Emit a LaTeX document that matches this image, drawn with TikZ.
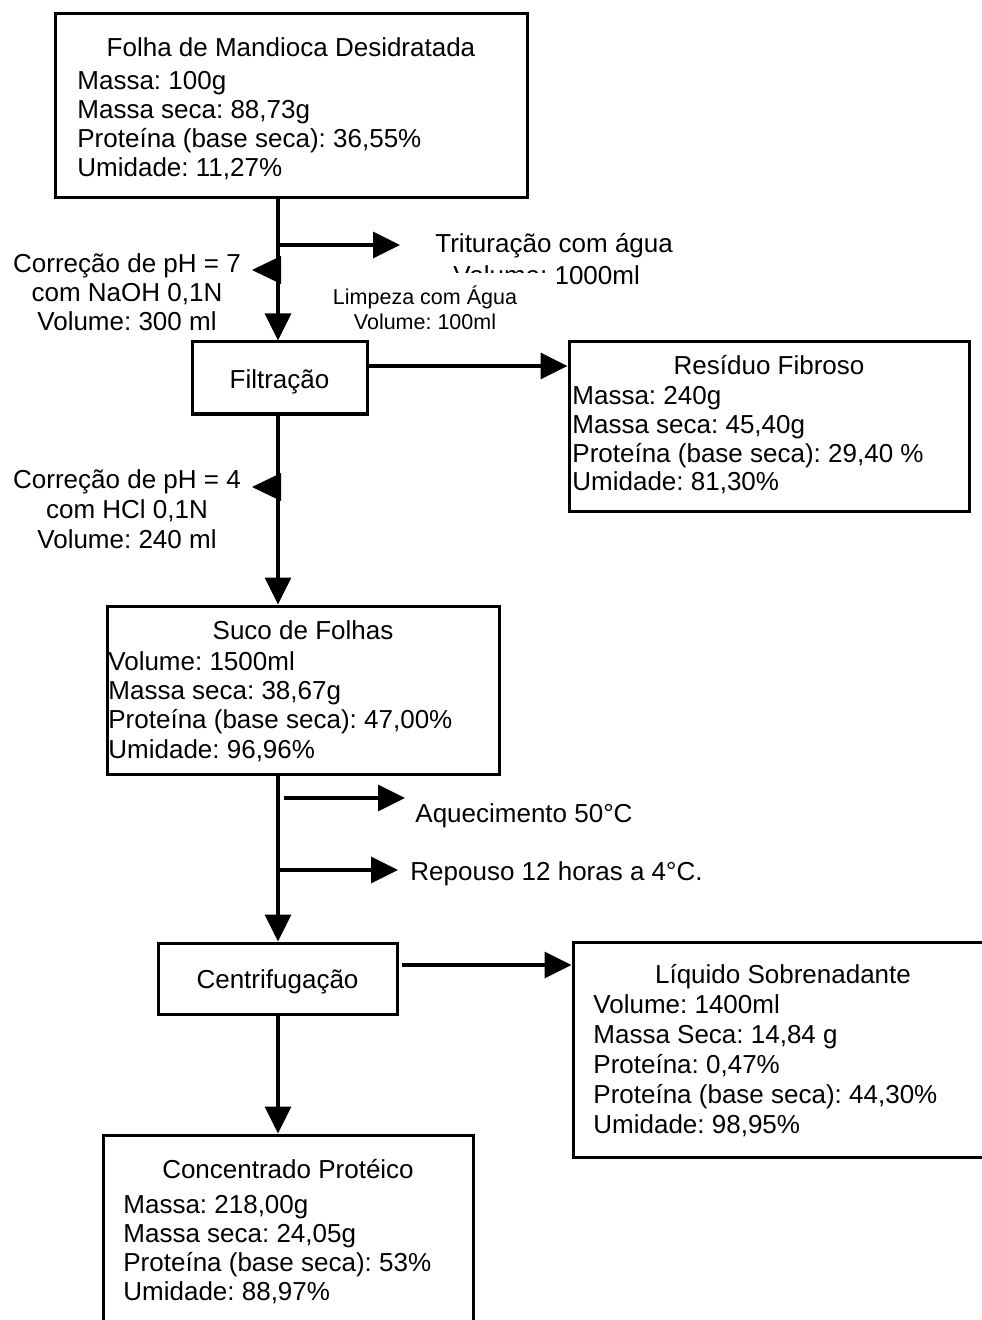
\documentclass[tikz,border=0pt]{standalone}
\usepackage{fontspec}
\setmainfont{Liberation Sans}
\usetikzlibrary{arrows.meta,fit}
\frenchspacing
\begin{document}
\begin{tikzpicture}[x=0.5pt,y=-0.5pt,
  box/.style={draw=black, line width=1.5pt, inner sep=0pt, rectangle},
  txt/.style={inner sep=0pt, font=\fontsize{13pt}{14.75pt}\selectfont},
  lt/.style={txt, anchor=base west},
  ct/.style={txt, anchor=base},
  small/.style={inner sep=0pt, anchor=base, font=\fontsize{10.75pt}{12.5pt}\selectfont},
  flow/.style={line width=1.75pt, -{Triangle[length=13.5pt,width=13pt]}},
  marker/.style={fill=black},
]
\useasboundingbox (0,0) rectangle (981,1320);

% ---- process boxes ----
\node[box, fit={(55,14) (527,198)}] (folha) {};
\node[box, fit={(192,342) (367,414)}] (filt) {};
\node[box, fit={(569,342) (969,511)}] (res) {};
\node[box, fit={(107,606) (499,774)}] (suco) {};
\node[box, fit={(158,943) (397,1014)}] (centr) {};
\node[box, fit={(573,942) (993,1157)}] (liq) {};
\node[box, fit={(103,1135) (473,1335)}] (conc) {};

% ---- helper coordinates ----
\coordinate (spine) at (278,0);
\coordinate (br1) at (278,245);
\coordinate (br1e) at (400,245);
\coordinate (ph7) at (281,270);
\coordinate (ph4) at (281,487);
\coordinate (resy) at (0,366);
\coordinate (aq) at (284,798);
\coordinate (aqe) at (405,798);
\coordinate (rp) at (278,870);
\coordinate (rpe) at (398,870);
\coordinate (liqy) at (0,965);

% ---- main flow ----
\draw[flow] (folha.south -| spine) -- (filt.north -| spine);
\draw[flow] (filt.south -| spine) -- (suco.north -| spine);
\draw[flow] (suco.south -| spine) -- (centr.north -| spine);
\draw[flow] (centr.south -| spine) -- (conc.north -| spine);

% ---- side streams ----
\draw[flow] (br1) -- (br1e);
\draw[flow] (filt.east |- resy) -- (res.west |- resy);
\draw[flow] (aq) -- (aqe);
\draw[flow] (rp) -- (rpe);
\draw[flow] ([xshift=1.5pt]centr.east |- liqy) -- (liq.west |- liqy);

% ---- reagent inlets: left-pointing heads on the spine ----
\fill[marker] (ph7) ++(0,-14) -- ++(0,28) -- ++(-29,-14) -- cycle;
\fill[marker] (ph4) ++(0,-14) -- ++(0,28) -- ++(-29,-14) -- cycle;

% ---- Folha de Mandioca Desidratada ----
\node[ct] (folhaT) at (291,57) {Folha de Mandioca Desidratada};
\node[lt] (folha1) at (77,90) {Massa: 100g};
\node[lt] (folha2) at (77,119) {Massa seca: 88,73g};
\node[lt] (folha3) at (77,148) {Proteína (base seca): 36,55\%};
\node[lt] (folha4) at (77,177) {Umidade: 11,27\%};

% ---- pH correction 7 ----
\node[ct] (ph7a) at (127,273) {Correção de pH = 7};
\node[ct] (ph7b) at (127,302) {com NaOH 0,1N};
\node[ct] (ph7c) at (127,331) {Volume: 300 ml};

% ---- grinding with water, partly hidden by the washing label ----
\node[lt] (trit1) at (435,253) {Trituração com água};
\node[lt] (trit2) at (453,285) {Volume: 1000ml};
\fill[white] (293,273) rectangle (557,338);
\node[small] (limp1) at (425,305) {Limpeza com Água};
\node[small] (limp2) at (425,330) {Volume: 100ml};

% ---- Filtração ----
\node[ct] (filtT) at (279.5,388) {Filtração};

% ---- Resíduo Fibroso ----
\node[ct] (resT) at (769,375) {Resíduo Fibroso};
\node[lt] (res1) at (572,405) {Massa: 240g};
\node[lt] (res2) at (572,433.5) {Massa seca: 45,40g};
\node[lt] (res3) at (572,462) {Proteína (base seca): 29,40 \%};
\node[lt] (res4) at (572,490.5) {Umidade: 81,30\%};

% ---- pH correction 4 ----
\node[ct] (ph4a) at (127,488) {Correção de pH = 4};
\node[ct] (ph4b) at (127,518) {com HCl 0,1N};
\node[ct] (ph4c) at (127,548) {Volume: 240 ml};

% ---- Suco de Folhas ----
\node[ct] (sucoT) at (303,639) {Suco de Folhas};
\node[lt] (suco1) at (108,670) {Volume: 1500ml};
\node[lt] (suco2) at (108,699) {Massa seca: 38,67g};
\node[lt] (suco3) at (108,728.5) {Proteína (base seca): 47,00\%};
\node[lt] (suco4) at (108,758) {Umidade: 96,96\%};

% ---- heating and rest ----
\node[lt] (aqT) at (415,822) {Aquecimento 50°C};
\node[lt] (rpT) at (410,880) {Repouso 12 horas a 4°C.};

% ---- Centrifugação ----
\node[ct] (centrT) at (277.5,988) {Centrifugação};

% ---- Líquido Sobrenadante ----
\node[ct] (liqT) at (783,983) {Líquido Sobrenadante};
\node[lt] (liq1) at (593,1013) {Volume: 1400ml};
\node[lt] (liq2) at (593,1043) {Massa Seca: 14,84 g};
\node[lt] (liq3) at (593,1073) {Proteína: 0,47\%};
\node[lt] (liq4) at (593,1103) {Proteína (base seca): 44,30\%};
\node[lt] (liq5) at (593,1133) {Umidade: 98,95\%};

% ---- Concentrado Protéico ----
\node[ct] (concT) at (288,1178) {Concentrado Protéico};
\node[lt] (conc1) at (123,1213) {Massa: 218,00g};
\node[lt] (conc2) at (123,1242) {Massa seca: 24,05g};
\node[lt] (conc3) at (123,1271) {Proteína (base seca): 53\%};
\node[lt] (conc4) at (123,1300) {Umidade: 88,97\%};
\end{tikzpicture}
\end{document}
